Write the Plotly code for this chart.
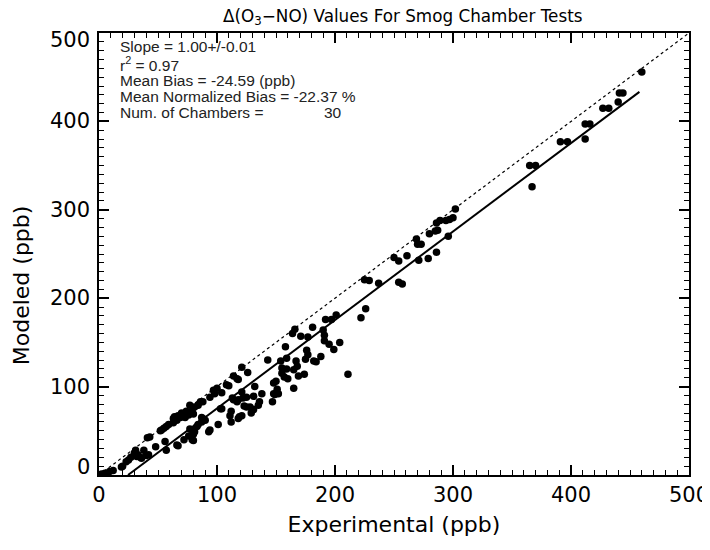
import plotly.graph_objects as go

# Experimental (x) and Modeled (y) delta(O3-NO) values, ppb
exp_ppb = [
    460, 441, 444, 440, 427, 432, 412, 416, 412, 391, 397, 365, 370, 367,
    302, 300, 297, 294, 289, 286, 287, 285, 296, 280, 269, 270, 273, 286, 279, 271, 261, 250, 254,
    254, 257, 237, 229, 225, 226, 222,
    201, 197, 192, 181, 166, 164, 171, 177, 190, 191, 191, 195, 199, 204, 211, 158, 143, 154, 159,
    167, 168, 176, 177, 175, 182, 184, 188, 155, 159, 155, 157, 165, 169, 174, 160, 165, 149, 152,
    148, 150, 148, 151, 147,
    121, 126, 114, 118, 117, 108, 110, 104, 100, 97, 98, 94, 88, 86, 84, 81, 77, 79, 80, 76, 73,
    74, 70, 69, 67, 66, 64, 63, 63, 59, 57, 55, 52, 53, 43, 41, 31, 30, 33, 32, 35, 36, 40, 42, 38,
    27, 25, 23, 20, 19, 12, 9, 5, 2,
    136, 135, 130, 121, 119, 112, 138, 125, 122, 118, 117, 125, 123, 112, 111, 104, 132, 131, 128,
    131, 129, 118, 114, 113, 121, 103, 101, 93, 94, 90, 87, 84, 83, 77, 79, 81, 80, 76, 79, 80, 72,
    66, 67, 57, 56, 48, 88, 87,
]
mod_ppb = [
    456, 432, 432, 422, 415, 415, 397, 397, 380, 377, 377, 350, 350, 326,
    301, 291, 289, 288, 288, 285, 277, 276, 270, 273, 267, 261, 261, 252, 245, 243, 248, 246, 242,
    218, 216, 217, 220, 221, 188, 178,
    181, 176, 176, 167, 165, 160, 157, 156, 164, 158, 152, 148, 142, 150, 114, 145, 130, 129, 132,
    129, 123, 141, 136, 131, 129, 128, 134, 121, 120, 115, 111, 119, 112, 114, 109, 98, 91, 92,
    104, 106, 92, 97, 83,
    122, 116, 112, 108, 109, 102, 101, 93, 98, 96, 92, 88, 83, 83, 79, 77, 79, 72, 69, 68, 65,
    72, 70, 65, 67, 62, 66, 59, 64, 57, 55, 53, 50, 51, 43, 42, 28, 25, 23, 21, 20, 19, 22, 23, 28,
    20, 17, 15, 10, 9, 5, 4, 2, 1,
    83, 79, 74, 67, 66, 60, 92, 88, 87, 85, 83, 77, 78, 72, 67, 75, 100, 89, 77,
    74, 70, 64, 85, 87, 94, 75, 57, 49, 51, 62, 60, 57, 55, 52, 51, 49, 46, 44, 40, 39, 40,
    34, 33, 28, 38, 32, 64, 65,
]

slope = 1.00
intercept = -24.6
fit_x = [24.6, 458]
fit_y = [slope * v + intercept for v in fit_x]
one_x = [0, 500]
one_y = [0, 500]

y_tick_vals = [0, 100, 200, 300, 400, 500]
y_tick_text = ["0", "100", "200", "300", "400", "500"]

stat_lines = [
    "Slope = 1.00+/-0.01",
    "r<sup>2</sup> = 0.97",
    "Mean Bias = -24.59 (ppb)",
    "Mean Normalized Bias = -22.37 %",
    "Num. of Chambers =",
]
n_chambers = "30"

fig = go.Figure()
fig.add_trace(go.Scatter(x=one_x, y=one_y, mode="lines",
                         line=dict(color="black", width=1.2, dash="dot"),
                         showlegend=False, hoverinfo="skip"))
fig.add_trace(go.Scatter(x=exp_ppb, y=mod_ppb, mode="markers",
                         marker=dict(color="black", size=7.5),
                         showlegend=False))
fig.add_trace(go.Scatter(x=fit_x, y=fit_y, mode="lines",
                         line=dict(color="black", width=2),
                         showlegend=False, hoverinfo="skip"))

axis_common = dict(
    range=[0, 500], dtick=100, ticks="inside", ticklen=10, tickwidth=1.5,
    tickcolor="black", showline=True, linecolor="black", linewidth=2,
    mirror="ticks", showgrid=False, zeroline=False, automargin=False,
    tickfont=dict(family="DejaVu Sans", size=21, color="black"),
    minor=dict(dtick=10, ticks="inside", ticklen=5, tickwidth=1.2, tickcolor="black"),
)
fig.update_xaxes(**axis_common,
                 title=dict(text="Experimental (ppb)", standoff=10,
                            font=dict(family="DejaVu Sans", size=22, color="black")))
fig.update_yaxes(**axis_common, showticklabels=False)

# y tick labels (end labels nudged inward as in the reference)
for v, t in zip(y_tick_vals, y_tick_text):
    shift = 8 if v == 0 else (-7 if v == 500 else 0)
    fig.add_annotation(text=t, xref="paper", yref="y", x=-0.012, y=v,
                       xanchor="right", yanchor="middle", yshift=shift,
                       showarrow=False,
                       font=dict(family="DejaVu Sans", size=21, color="black"))

# y-axis title as annotation for precise placement
fig.add_annotation(text="Modeled (ppb)", xref="paper", yref="paper",
                   x=-0.13, y=0.43, textangle=-90, showarrow=False,
                   xanchor="center", yanchor="middle",
                   font=dict(family="DejaVu Sans", size=22, color="black"))

ys = [0.969, 0.929, 0.892, 0.856, 0.820]
for t, yy in zip(stat_lines, ys):
    fig.add_annotation(text=t, xref="paper", yref="paper", x=0.032, y=yy,
                       xanchor="left", yanchor="middle", showarrow=False,
                       font=dict(family="Liberation Sans", size=15.5, color="#222"))
fig.add_annotation(text=n_chambers, xref="paper", yref="paper", x=0.378, y=ys[-1],
                   xanchor="left", yanchor="middle", showarrow=False,
                   font=dict(family="Liberation Sans", size=15.5, color="#222"))

fig.update_layout(
    width=710, height=550,
    margin=dict(l=91, r=29, t=25, b=83),
    paper_bgcolor="white", plot_bgcolor="white",
    title=dict(text="Δ(O<sub>3</sub>−NO) Values For Smog Chamber Tests",
               x=0.556, xanchor="center", y=1.0, yanchor="top",
               pad=dict(t=2, b=0, l=0, r=0),
               font=dict(family="DejaVu Sans", size=16.8, color="black")),
)
fig.write_html("out.html")
